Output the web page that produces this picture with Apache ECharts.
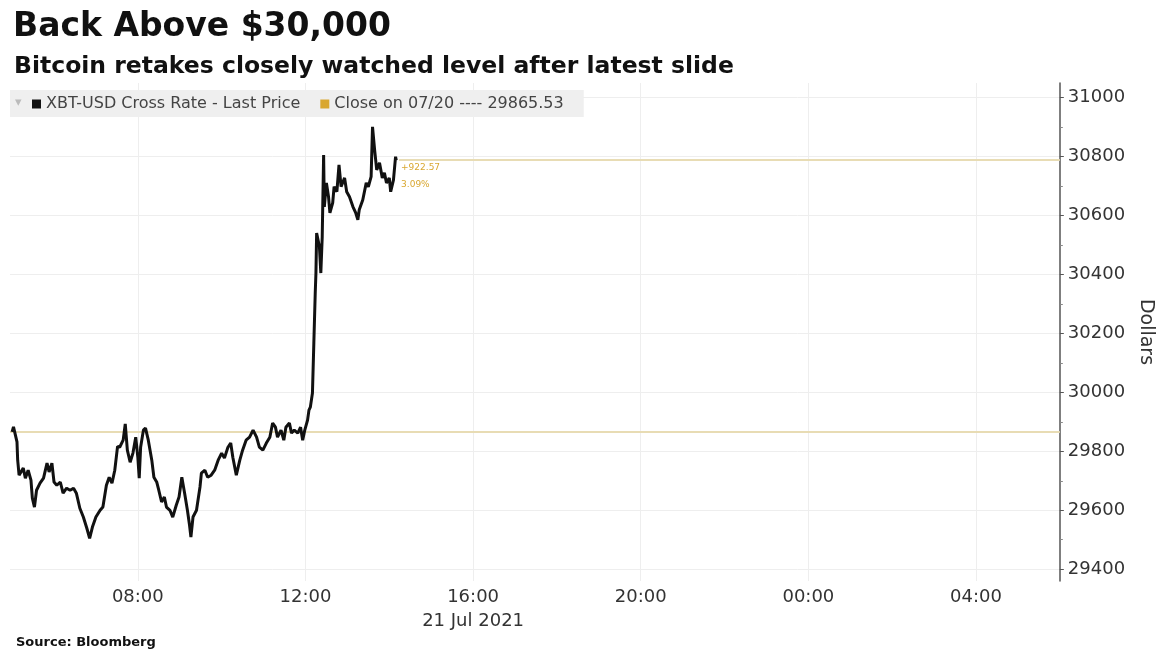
<!DOCTYPE html>
<html><head><meta charset="utf-8">
<script src="https://cdn.jsdelivr.net/npm/echarts@6/dist/echarts.min.js"></script>
<style>html,body{margin:0;padding:0;background:#fff}#c{width:1163px;height:651px}</style>
</head><body><div id="c"></div><script>
// Time of day on 21 Jul 2021 (HH:MM) and XBT-USD last price
const times = ['05:00','05:02','05:07','05:08','05:10','05:16','05:19','05:23','05:27','05:29','05:32','05:35','05:40','05:45','05:50','05:53','05:57',
'06:00','06:04','06:09','06:13','06:18','06:23','06:28','06:32','06:37','06:42','06:47','06:51','06:55',
'07:00','07:06','07:10','07:15','07:19','07:23','07:27','07:31','07:34','07:39','07:42','07:45','07:49','07:53','07:57',
'08:00','08:02','08:04','08:08','08:11','08:15','08:20','08:23','08:27','08:30','08:34','08:38','08:41','08:46','08:50','08:55','08:59',
'09:03','09:07','09:11','09:14','09:16','09:19','09:24','09:29','09:31','09:36','09:40','09:45','09:50','09:55',
'10:00','10:04','10:09','10:13','10:16','10:21','10:26','10:30','10:35','10:40','10:45','10:50','10:54','10:59',
'11:04','11:09','11:13','11:17','11:20','11:25','11:29','11:32','11:37','11:40','11:44','11:49','11:53','11:56','11:59',
'12:03','12:05','12:07','12:10','12:12','12:14','12:15','12:16','12:20','12:22','12:24','12:26','12:27','12:30','12:33','12:35','12:39','12:41','12:45','12:48','12:51','12:56','12:59',
'13:03','13:08','13:12','13:15','13:17','13:22','13:27','13:30','13:34','13:36','13:39','13:42','13:46','13:50','13:53','13:56',
'14:00','14:02','14:06','14:09','14:10'];
const prices = [29866,29883,29832,29770,29719,29743,29709,29736,29702,29641,29611,29668,29692,29709,29760,29730,29760,
29696,29685,29696,29658,29675,29668,29675,29658,29607,29577,29539,29505,29543,
29577,29600,29611,29685,29712,29692,29736,29817,29814,29838,29893,29804,29763,29794,29848,
29780,29709,29814,29872,29879,29838,29770,29712,29696,29668,29628,29645,29611,29600,29577,29617,29645,
29712,29658,29600,29550,29509,29577,29600,29679,29726,29736,29712,29719,29736,29770,
29794,29777,29814,29828,29780,29719,29770,29804,29838,29848,29872,29848,29814,29804,
29828,29848,29896,29882,29848,29872,29838,29882,29896,29862,29872,29862,29882,29838,29872,
29906,29940,29950,29998,30168,30338,30405,30541,30494,30405,30528,30806,30630,30711,30664,30609,30643,30698,30681,30772,30698,30728,30681,
30664,30630,30609,30586,30620,30653,30711,30698,30732,30901,30823,30755,30779,30728,30745,30711,
30728,30681,30721,30800,30788.10];
const prevClose = 29865.53;
const yTicks = [29400,29600,29800,30000,30200,30400,30600,30800,31000];
const yMinorTicks = [29500,29700,29900,30100,30300,30500,30700,30900];
const xTickHours = [8,12,16,20,24,28];
const dateLabel = '21 Jul 2021';
const seriesName = 'XBT-USD Cross Rate - Last Price';
const closeName = 'Close on 07/20 ---- 29865.53';

const toMin = t => { const [h,m] = t.split(':').map(Number); return h*60+m; };
const lineData = times.map((t,i) => [toMin(t), prices[i]]);
const xMin = 297, xMax = 1800;
const last = prices[prices.length-1];
const chg = last - prevClose;
const pct = chg / prevClose * 100;
const lastT = toMin(times[times.length-1]);

const FONT = 'DejaVu Sans';
const chart = echarts.init(document.getElementById('c'), null, {renderer:'canvas'});
chart.setOption({
  animation:false,
  backgroundColor:'#ffffff',
  textStyle:{fontFamily:FONT},
  title:[
    {text:'Back Above $30,000', left:8, top:6, textStyle:{fontFamily:FONT, fontWeight:'bold', fontSize:33, color:'#111'}},
    {text:'Bitcoin retakes closely watched level after latest slide', left:9, top:50, textStyle:{fontFamily:FONT, fontWeight:'bold', fontSize:23.5, color:'#111'}},
    {text:'Source: Bloomberg', left:11, top:631, textStyle:{fontFamily:FONT, fontWeight:'bold', fontSize:13, color:'#111'}}
  ],
  graphic:[{type:'text', left:15, top:96, style:{text:'▾', fill:'#bbbbbb', font:'13px DejaVu Sans'}, z:100}],
  legend:{
    left:10, top:90, padding:[6,20,5,22], itemGap:20, itemWidth:9, itemHeight:9,
    backgroundColor:'#efefef',
    textStyle:{fontFamily:FONT, fontSize:16, color:'#444'},
    data:[{name:seriesName, icon:'rect', itemStyle:{color:'#111'}},
          {name:closeName, icon:'rect', itemStyle:{color:'#d9a730'}}]
  },
  grid:{left:10, right:95, top:83, bottom:70, containLabel:false},
  xAxis:{
    type:'value', min:xMin, max:xMax,
    axisLine:{show:false},
    axisTick:{show:false, customValues: xTickHours.map(h=>h*60)},
    axisLabel:{customValues: xTickHours.map(h=>h*60), margin:4, color:'#333', fontSize:18, fontFamily:FONT, lineHeight:24,
      formatter: v => { const h = Math.round(v/60)%24; const s = (h<10?'0':'')+h+':00'; return v===16*60 ? s+'\n'+dateLabel : s; }},
    splitLine:{show:true, lineStyle:{color:'#eeeeee', width:1}}
  },
  yAxis:[{
    type:'value', position:'right', min:29360, max:31050,
    name:'Dollars', nameLocation:'middle', nameRotate:-90, nameGap:76,
    nameTextStyle:{fontSize:19, color:'#333', fontFamily:FONT},
    axisLine:{show:true, lineStyle:{color:'#555', width:1.5}},
    axisTick:{show:true, length:4, customValues:yTicks, lineStyle:{color:'#555'}},
    axisLabel:{customValues:yTicks, margin:8, color:'#333', fontSize:18, fontFamily:FONT, formatter: v => String(v)},
    splitLine:{show:true, lineStyle:{color:'#eeeeee', width:1}}
  },{
    type:'value', position:'right', min:29360, max:31050,
    axisLine:{show:false},
    axisTick:{show:true, length:3, customValues:yMinorTicks, lineStyle:{color:'#888'}},
    axisLabel:{show:false}, splitLine:{show:false}
  }],
  series:[
    {name:closeName, type:'line', yAxisIndex:0, data:[[xMin,prevClose],[xMax,prevClose]], symbol:'none', silent:true,
     lineStyle:{color:'#e8dcb4', width:2}, itemStyle:{color:'#d9a730'}, z:1},
    {name:seriesName, type:'line', yAxisIndex:0, data:lineData, symbol:'none',
     lineStyle:{color:'#111', width:3}, itemStyle:{color:'#111'}, z:5,
     markLine:{symbol:'none', silent:true,
       lineStyle:{color:'#e8dcb4', width:2, type:'solid'},
       label:{show:true, position:'insideStartBottom', distance:[2,-1], formatter:'+'+chg.toFixed(2)+'\n'+pct.toFixed(2)+'%',
              color:'#d9a730', fontSize:9, lineHeight:17, fontFamily:FONT},
       data:[[{coord:[lastT+4,last]},{coord:[xMax,last]}]]}
    }
  ]
});
</script></body></html>
